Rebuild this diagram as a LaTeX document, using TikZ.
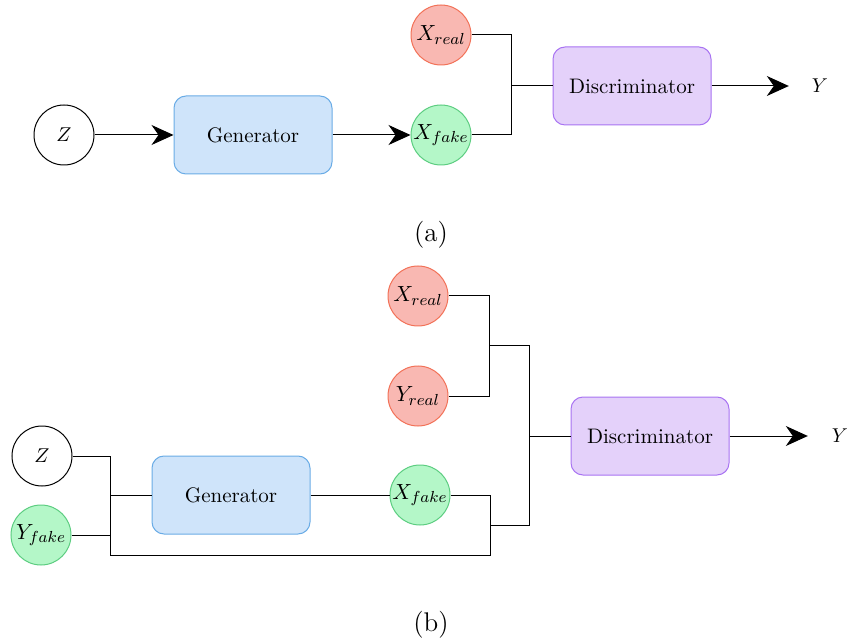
\documentclass[tikz,border=0pt]{standalone}
\usepackage{amsmath}
\usetikzlibrary{arrows.meta}

\definecolor{genfill}{HTML}{CFE4FA}
\definecolor{gendraw}{HTML}{6AACE6}
\definecolor{realfill}{HTML}{F9B8B2}
\definecolor{realdraw}{HTML}{F27157}
\definecolor{fakefill}{HTML}{B4F7C8}
\definecolor{fakedraw}{HTML}{5CCD80}
\definecolor{disfill}{HTML}{E4D1FA}
\definecolor{disdraw}{HTML}{A873F2}

\begin{document}
\begin{tikzpicture}[x=0.5pt, y=-0.5pt, line width=0.5pt,
    >={Stealth[length=11pt, width=10pt, inset=3.5pt]},
    blockbox/.style={draw, rounded corners=6pt, minimum width=79pt, minimum height=39pt,
      font=\fontsize{10.5}{12}\selectfont},
    genbox/.style={blockbox, fill=genfill, draw=gendraw},
    disbox/.style={blockbox, fill=disfill, draw=disdraw},
    varnode/.style={circle, draw, minimum size=30pt, inner sep=0pt, font=\fontsize{11}{13}\selectfont},
    realvar/.style={varnode, fill=realfill, draw=realdraw},
    fakevar/.style={varnode, fill=fakefill, draw=fakedraw}]
  \useasboundingbox (0,0) rectangle (849,640);

  % (a) plain GAN
  \node[varnode, font=\normalsize] (za) at (64,135) {$Z$};
  \node[genbox] (gena) at (253,135) {Generator};
  \node[fakevar] (xfa) at (441,135) {$X_{fake}$};
  \node[realvar] (xra) at (441,35) {$X_{real}$};
  \node[disbox] (disa) at (632,86) {Discriminator};
  \node (ya) at (820,86) {$Y$};
  \coordinate (ja) at (511,86);
  \draw[->] (za) -- (gena);
  \draw[->] (gena) -- (xfa);
  \draw (xra.east) -| (ja);
  \draw (xfa.east) -| (ja) -- (disa);
  \draw[->, shorten >=8pt] (disa) -- (ya);
  \node[font=\fontsize{13.5}{16}\selectfont] (capa) at (431,235) {(a)};

  % (b) conditional GAN
  \node[varnode, font=\normalsize] (zb) at (42,456) {$Z$};
  \node[fakevar] (yfb) at (41,535) {$Y_{fake}$};
  \node[genbox] (genb) at (231,495) {Generator};
  \node[fakevar] (xfb) at (420,495) {$X_{fake}$};
  \node[realvar] (xrb) at (418,296) {$X_{real}$};
  \node[realvar] (yrb) at (418,396) {$Y_{real}$};
  \node[disbox] (disb) at (650,436) {Discriminator};
  \node (yb) at (840,436) {$Y$};
  \coordinate (jin) at (110,495);
  \coordinate (jlow) at (110,555);
  \coordinate (jfake) at (490,525);
  \coordinate (jreal) at (489,346);
  \coordinate (jdis) at (529,436);
  \draw (zb.east) -| (jin);
  \draw (yfb.east) -| (jin) -- (genb);
  \draw (jin) -- (jlow) -| (jfake);
  \draw (genb) -- (xfb);
  \draw (xfb.east) -| (jfake) -| (jdis);
  \draw (xrb.east) -| (jreal);
  \draw (yrb.east) -| (jreal) -| (jdis) -- (disb);
  \draw[->, shorten >=8.5pt] (disb) -- (yb);
  \node[font=\fontsize{13.5}{16}\selectfont] (capb) at (431,625) {(b)};
\end{tikzpicture}
\end{document}
